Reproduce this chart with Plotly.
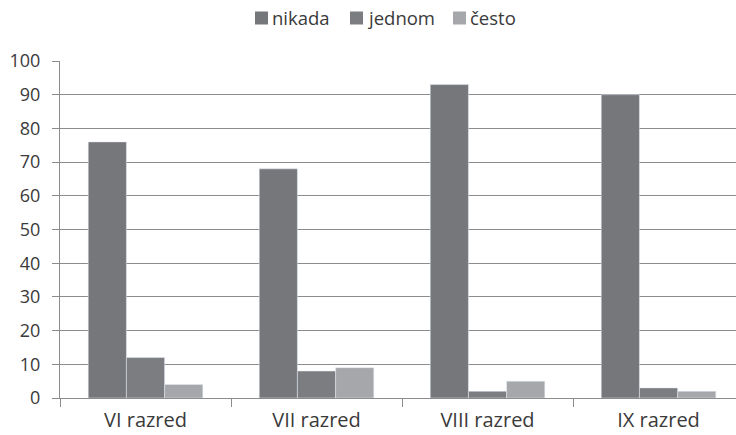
import plotly.graph_objects as go

categories = ["VI razred", "VII razred", "VIII razred", "IX razred"]
nikada = [76, 68, 93, 90]
jednom = [12, 8, 2, 3]
cesto = [4, 9, 5, 2]
y_ticks = [0, 10, 20, 30, 40, 50, 60, 70, 80, 90, 100]

series = [("nikada", nikada, "#76777b"),
          ("jednom", jednom, "#7c7d81"),
          ("često", cesto, "#a6a7ab")]

family = "Open Sans, Noto Sans, sans-serif"
text_color = "#3a3a3a"
grid_color = "#8c8c8c"

# plot area in pixels, used to place the legend row above it
W, H = 736, 435
L, R, T, B = 60, 0, 61, 37
pw, ph = W - L - R, H - T - B

fig = go.Figure()
for name, vals, color in series:
    fig.add_trace(go.Bar(name=name, x=categories, y=vals, marker_color=color,
                         showlegend=False))

# legend row: small square swatch followed by the series name
legend_x = [255, 350, 453]
legend_yc = 18
for (name, _, color), px in zip(series, legend_x):
    fig.add_shape(type="rect", xref="paper", yref="paper",
                  x0=(px - L) / pw, x1=(px + 13 - L) / pw,
                  y0=(H - B - legend_yc - 6.5) / ph, y1=(H - B - legend_yc + 6.5) / ph,
                  fillcolor=color, line_width=0)
    fig.add_annotation(text=name, xref="paper", yref="paper",
                       x=(px + 15 - L) / pw, y=(H - B - legend_yc) / ph,
                       xanchor="left", yanchor="middle", showarrow=False,
                       font=dict(family=family, size=18.5, color=text_color))

fig.update_layout(
    width=W, height=H,
    margin=dict(l=L, r=R, t=T, b=B),
    paper_bgcolor="white", plot_bgcolor="white",
    barmode="group", bargap=0.33, bargroupgap=0,
    font=dict(family=family, size=18, color=text_color),
)
fig.update_xaxes(
    range=[-0.5, 3.453], showline=True, linecolor=grid_color, linewidth=1,
    ticks="outside", tickson="boundaries", ticklen=8, tickcolor=grid_color,
    showgrid=False, ticklabelstandoff=4,
    tickfont=dict(family=family, size=20, color=text_color),
)
fig.update_yaxes(
    range=[0, 100], tickvals=y_ticks, showline=True, linecolor=grid_color, linewidth=1,
    ticks="outside", ticklen=7, tickcolor=grid_color, ticklabelstandoff=8,
    showgrid=True, gridcolor=grid_color, gridwidth=1, zeroline=False,
    tickfont=dict(family=family, size=18, color=text_color),
)

fig.write_html("out.html")
